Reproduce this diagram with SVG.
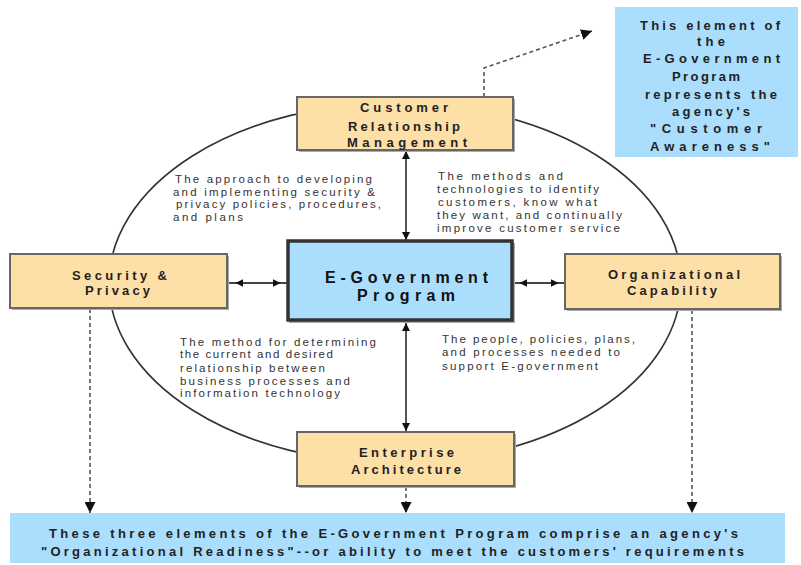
<svg xmlns="http://www.w3.org/2000/svg" width="801" height="565" viewBox="0 0 801 565">
<style>
.box{fill:#FDDFA8;stroke:#666;stroke-width:2}
.shadow{fill:#aaa}
.blue{fill:#AADEFC}
.lbl{font-family:"Liberation Sans",Arial,sans-serif;font-weight:bold;font-size:13px;fill:#222}
.big{font-size:16px;fill:#111}
.desc{font-family:"Liberation Sans",Arial,sans-serif;font-size:11.5px;fill:#333}
.conn{stroke:#444;stroke-width:1.8;fill:none}
.dash{stroke:#555;stroke-width:1.6;fill:none;stroke-dasharray:4 3}
</style>
<defs>
<marker id="ah" viewBox="0 0 10 10" refX="10" refY="5" markerWidth="8" markerHeight="8" markerUnits="userSpaceOnUse" orient="auto-start-reverse">
<path d="M0,0 L10,5 L0,10 z" fill="#111"/>
</marker>
<marker id="ahs" viewBox="0 0 10 10" refX="18" refY="5" markerWidth="8" markerHeight="8" markerUnits="userSpaceOnUse" orient="auto-start-reverse">
<path d="M0,0 L10,5 L0,10 z" fill="#111"/>
</marker>
<marker id="ad" viewBox="0 0 10 10" refX="10" refY="5" markerWidth="11" markerHeight="11" markerUnits="userSpaceOnUse" orient="auto">
<path d="M0,0 L10,5 L0,10 z" fill="#111"/>
</marker>
</defs>

<ellipse cx="395" cy="283" rx="286" ry="180" fill="none" stroke="#333" stroke-width="1.6"/>

<g id="connectors">
<line class="conn" x1="406" y1="151" x2="406" y2="240" marker-start="url(#ah)" marker-end="url(#ah)"/>
<line class="conn" x1="406" y1="323" x2="406" y2="431" marker-start="url(#ah)" marker-end="url(#ah)"/>
<line class="conn" x1="229" y1="283" x2="287" y2="283" marker-start="url(#ahs)" marker-end="url(#ahs)"/>
<line class="conn" x1="513" y1="283" x2="565" y2="283" marker-start="url(#ahs)" marker-end="url(#ahs)"/>
<polyline class="dash" points="484,97 484,68 592,31" marker-end="url(#ad)"/>
<line class="dash" x1="90" y1="309" x2="90" y2="513" marker-end="url(#ad)"/>
<line class="dash" x1="692" y1="310" x2="692" y2="513" marker-end="url(#ad)"/>
<line class="dash" x1="406" y1="487" x2="406" y2="513" marker-end="url(#ad)"/>
</g>

<g id="crm">
<rect class="shadow" x="299" y="99" width="216" height="53"/>
<rect class="box" x="297" y="97" width="216" height="53"/>
<text class="lbl" x="360" y="112" textLength="88" lengthAdjust="spacing">Customer</text>
<text class="lbl" x="348" y="131" textLength="112" lengthAdjust="spacing">Relationship</text>
<text class="lbl" x="347" y="147" textLength="120" lengthAdjust="spacing">Management</text>
</g>

<g id="security">
<rect class="shadow" x="12" y="256" width="217" height="54"/>
<rect class="box" x="10" y="254" width="217" height="54"/>
<text class="lbl" x="72" y="280" textLength="95" lengthAdjust="spacing">Security &amp;</text>
<text class="lbl" x="85" y="295" textLength="65" lengthAdjust="spacing">Privacy</text>
</g>

<g id="egov">
<rect class="shadow" x="289" y="243" width="226" height="80"/>
<rect x="288" y="241" width="224" height="79" fill="#AADEFC" stroke="#333" stroke-width="3.5"/>
<text class="lbl big" x="325" y="283" textLength="163" lengthAdjust="spacing">E-Government</text>
<text class="lbl big" x="357" y="301" textLength="98" lengthAdjust="spacing">Program</text>
</g>

<g id="org">
<rect class="shadow" x="567" y="256" width="215" height="55"/>
<rect class="box" x="565" y="254" width="215" height="55"/>
<text class="lbl" x="608" y="279" textLength="132" lengthAdjust="spacing">Organizational</text>
<text class="lbl" x="627" y="295" textLength="90" lengthAdjust="spacing">Capability</text>
</g>

<g id="enterprise">
<rect class="shadow" x="299" y="434" width="217" height="54"/>
<rect class="box" x="297" y="432" width="217" height="54"/>
<text class="lbl" x="359" y="457" textLength="95" lengthAdjust="spacing">Enterprise</text>
<text class="lbl" x="351" y="474" textLength="110" lengthAdjust="spacing">Architecture</text>
</g>

<g id="callout">
<rect class="blue" x="615" y="7" width="183" height="150"/>
<text class="lbl" x="640" y="30" textLength="140" lengthAdjust="spacing">This element of</text>
<text class="lbl" x="697" y="46" textLength="28" lengthAdjust="spacing">the</text>
<text class="lbl" x="643" y="63" textLength="137" lengthAdjust="spacing">E-Government</text>
<text class="lbl" x="672" y="81" textLength="68" lengthAdjust="spacing">Program</text>
<text class="lbl" x="645" y="99" textLength="132" lengthAdjust="spacing">represents the</text>
<text class="lbl" x="672" y="116" textLength="78" lengthAdjust="spacing">agency's</text>
<text class="lbl" x="650" y="133" textLength="112" lengthAdjust="spacing">"Customer</text>
<text class="lbl" x="650" y="151" textLength="120" lengthAdjust="spacing">Awareness"</text>
</g>

<g id="readiness">
<rect class="blue" x="10" y="513" width="775" height="50"/>
<text class="lbl" x="49" y="538" textLength="689" lengthAdjust="spacing">These three elements of the E-Government Program comprise an agency's</text>
<text class="lbl" x="41" y="556" textLength="703" lengthAdjust="spacing">"Organizational Readiness"--or ability to meet the customers' requirements</text>
</g>

<g id="desc-security">
<text class="desc" x="175" y="183" textLength="197" lengthAdjust="spacing">The approach to developing</text>
<text class="desc" x="173" y="196" textLength="202" lengthAdjust="spacing">and implementing security &amp;</text>
<text class="desc" x="176" y="208" textLength="205" lengthAdjust="spacing">privacy policies, procedures,</text>
<text class="desc" x="173" y="221" textLength="70" lengthAdjust="spacing">and plans</text>
</g>

<g id="desc-crm">
<text class="desc" x="438" y="180" textLength="125" lengthAdjust="spacing">The methods and</text>
<text class="desc" x="437" y="193" textLength="162" lengthAdjust="spacing">technologies to identify</text>
<text class="desc" x="438" y="206" textLength="159" lengthAdjust="spacing">customers, know what</text>
<text class="desc" x="437" y="219" textLength="185" lengthAdjust="spacing">they want, and continually</text>
<text class="desc" x="437" y="232" textLength="183" lengthAdjust="spacing">improve customer service</text>
</g>

<g id="desc-ea">
<text class="desc" x="180" y="346" textLength="196" lengthAdjust="spacing">The method for determining</text>
<text class="desc" x="180" y="358" textLength="153" lengthAdjust="spacing">the current and desired</text>
<text class="desc" x="180" y="372" textLength="145" lengthAdjust="spacing">relationship between</text>
<text class="desc" x="180" y="385" textLength="170" lengthAdjust="spacing">business processes and</text>
<text class="desc" x="180" y="397" textLength="160" lengthAdjust="spacing">information technology</text>
</g>

<g id="desc-org">
<text class="desc" x="442" y="343" textLength="193" lengthAdjust="spacing">The people, policies, plans,</text>
<text class="desc" x="442" y="356" textLength="178" lengthAdjust="spacing">and processes needed to</text>
<text class="desc" x="442" y="370" textLength="156" lengthAdjust="spacing">support E-government</text>
</g>
</svg>
